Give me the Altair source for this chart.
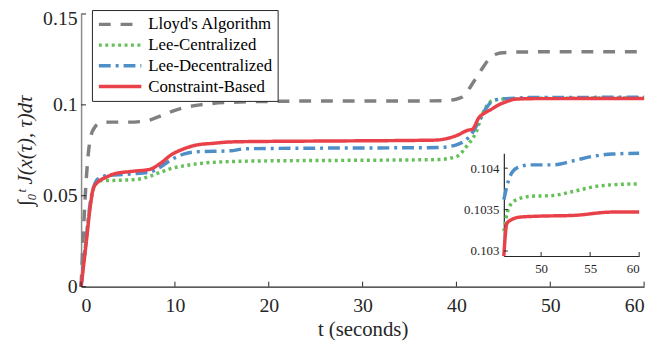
import altair as alt
import pandas as pd

SERIES = ["Lloyd's Algorithm", "Lee-Centralized", "Lee-Decentralized", "Constraint-Based"]
COLORS = ["#808080", "#66c05a", "#4f8fc8", "#e84149"]
DASHES = [[12, 10], [3, 3.5], [12, 5, 3, 5], [1, 0]]

# ---- main panel data ----
lloyd_t = [0, 0.25, 0.5, 0.75, 1.0, 1.5, 2, 3, 5, 7, 8, 9, 10, 11, 12, 14, 16, 20, 25, 30, 35, 39,
           40, 40.5, 41, 41.5, 42, 42.5, 43, 43.5, 44, 44.5, 45, 46, 50, 60]
lloyd_v = [0, 0.030, 0.055, 0.072, 0.082, 0.088, 0.0898, 0.0905, 0.0905, 0.0912, 0.093, 0.095, 0.097,
           0.0985, 0.0995, 0.1008, 0.1014, 0.1019, 0.1021, 0.1021, 0.1021, 0.1024, 0.1032, 0.104, 0.106,
           0.110, 0.114, 0.118, 0.122, 0.1253, 0.1273, 0.1283, 0.1287, 0.129, 0.1292, 0.1292]

leec_t = [0, 0.5, 1.0, 1.5, 2, 4, 6, 7.3, 8.5, 9.6, 11, 12.4, 15.9, 20, 26, 38, 40, 41.2, 42.1, 42.7,
          43.3, 44, 45, 46.2, 47.5, 51.2, 55.6, 60]
leec_v = [0, 0.024, 0.046, 0.056, 0.0583, 0.0585, 0.059, 0.0607, 0.063, 0.065, 0.0665, 0.0676, 0.0688,
          0.0692, 0.0694, 0.0699, 0.0715, 0.078, 0.085, 0.094, 0.100, 0.1027, 0.1032, 0.10324, 0.10362,
          0.10367, 0.10378, 0.10381]

leed_t = [0, 0.5, 1.0, 1.5, 2, 3, 5.4, 7.3, 8.5, 9.6, 11, 12.4, 15.9, 17.4, 20, 26, 38, 40, 41.6, 42.6,
          43.2, 43.7, 44.7, 46.2, 47.5, 51.2, 55.6, 60]
leed_v = [0, 0.024, 0.047, 0.057, 0.060, 0.0612, 0.062, 0.063, 0.066, 0.0698, 0.073, 0.0742, 0.0747,
          0.0758, 0.076, 0.0762, 0.0765, 0.078, 0.084, 0.093, 0.0984, 0.1015, 0.1032, 0.10362, 0.104,
          0.10404, 0.10415, 0.10418]

cb_t = [0, 0.5, 1.0, 1.3, 1.9, 2.6, 3.5, 5.4, 7.3, 8.5, 9.6, 10.7, 12.4, 14, 15.9, 20, 26, 37.7, 39,
        40.1, 41.2, 41.7, 42.4, 43.0, 43.7, 44.5, 45.3, 46.4, 48, 60]
cb_v = [0, 0.022, 0.045, 0.054, 0.058, 0.060, 0.062, 0.0634, 0.0645, 0.068, 0.0725, 0.0753, 0.078,
        0.0788, 0.0796, 0.0799, 0.0801, 0.0806, 0.0815, 0.0833, 0.086, 0.0866, 0.093, 0.0955, 0.0975,
        0.1, 0.1017, 0.1032, 0.10342, 0.10347]

# ---- inset data ----
in_leec_t = [46.2, 46.7, 47.5, 48.9, 51.2, 53.3, 55.6, 57.3, 60]
in_leec_v = [0.10324, 0.10352, 0.10362, 0.10366, 0.10367, 0.10372, 0.10378, 0.10380, 0.10381]
in_leed_t = [46.2, 46.7, 47.5, 48.9, 51.2, 53.3, 55.6, 57.3, 60]
in_leed_v = [0.10362, 0.10386, 0.10400, 0.10404, 0.10404, 0.10409, 0.10415, 0.10417, 0.10418]
in_cb_t = [46.2, 46.5, 47.0, 47.9, 49.6, 53.3, 57.3, 60]
in_cb_v = [0.10294, 0.10333, 0.10338, 0.10341, 0.10342, 0.10343, 0.10347, 0.10347]

main_x_ticks = [0, 10, 20, 30, 40, 50, 60]
main_y_ticks = [0, 0.05, 0.1, 0.15]
inset_x_ticks = [50, 55, 60]
inset_y_ticks = [0.103, 0.1035, 0.104]


def frame(parts):
    rows = []
    for name, ts, vs in parts:
        for t, v in zip(ts, vs):
            rows.append({"series": name, "t": t, "v": v})
    return pd.DataFrame(rows)


main_df = frame([(SERIES[0], lloyd_t, lloyd_v), (SERIES[1], leec_t, leec_v),
                 (SERIES[2], leed_t, leed_v), (SERIES[3], cb_t, cb_v)])
inset_df = frame([(SERIES[1], in_leec_t, in_leec_v), (SERIES[2], in_leed_t, in_leed_v),
                  (SERIES[3], in_cb_t, in_cb_v)])

FONT = "Liberation Serif, Times New Roman, DejaVu Serif, serif"
DARK = "#262626"
TOP = 4
W, H = 570, 276

legend = alt.Legend(title=None, orient="none", legendX=11, legendY=8 - (8 + TOP), fillColor="white",
                    strokeColor=DARK, padding=5, labelFont=FONT, labelFontSize=17, labelColor="black",
                    symbolType="stroke", symbolSize=1850, symbolStrokeWidth=3.5, labelOffset=5,
                    clipHeight=19, rowPadding=2, cornerRadius=0)
color = alt.Color("series:N", scale=alt.Scale(domain=SERIES, range=COLORS), legend=legend)
dash = alt.StrokeDash("series:N", scale=alt.Scale(domain=SERIES, range=DASHES), legend=legend)

# main scales/axes
mx_scale = alt.Scale(domain=[0, 60], nice=False, zero=False)
my_scale = alt.Scale(domain=[0, 0.15], nice=False)
mx_axis = alt.Axis(values=main_x_ticks, ticks=False, tickSize=0, grid=False, domainColor=DARK,
                   domainWidth=1.2, labelFont=FONT, labelFontSize=20, labelColor=DARK, labelPadding=9,
                   title="t (seconds)", titleFont=FONT, titleFontSize=21, titleFontWeight="normal",
                   titleColor=DARK, titlePadding=3)
my_axis = alt.Axis(values=main_y_ticks, format="~g", ticks=False, tickSize=0, grid=False,
                   domainColor="#8c8c8c", domainWidth=1.5, labelFont=FONT, labelFontSize=20,
                   labelColor=DARK, labelPadding=4,
                   labelOffset=alt.condition("datum.value >= 0.15", alt.value(5), alt.value(0)),
                   title="∫₀ᵗ J(x(τ), τ)dτ", titleFont=FONT,
                   titleFontSize=21, titleFontWeight="normal", titleFontStyle="italic",
                   titleColor=DARK, titlePadding=7)

main_lines = alt.Chart(main_df).mark_line(strokeWidth=3.5, interpolate="monotone").encode(
    x=alt.X("t:Q", scale=mx_scale, axis=mx_axis),
    y=alt.Y("v:Q", scale=my_scale, axis=my_axis),
    color=color, strokeDash=dash,
)
main_xt = alt.Chart(pd.DataFrame({"t": main_x_ticks})).mark_rule(color=DARK, strokeWidth=1).encode(
    x=alt.X("t:Q", scale=mx_scale), y=alt.value(H), y2=alt.value(H - 5))
main_yt = alt.Chart(pd.DataFrame({"v": main_y_ticks})).mark_rule(color=DARK, strokeWidth=1).encode(
    y=alt.Y("v:Q", scale=my_scale), x=alt.value(0), x2=alt.value(5))
main = alt.layer(main_lines, main_xt, main_yt)

# inset scales/axes (pixel ranges inside the main plot area)
IX0, IX1 = 428, 565
IYB, IYT = 257 - 8 - TOP, 153 - 8 - TOP
ix_scale = alt.Scale(domain=[46.2, 60], range=[IX0, IX1], nice=False, zero=False)
iy_scale = alt.Scale(domain=[0.10294, 0.10418], range=[IYB, IYT], nice=False, zero=False)
ix_axis = alt.Axis(orient="bottom", offset=IYB - H, values=inset_x_ticks, ticks=False, tickSize=0,
                   grid=False, domainColor=DARK, domainWidth=1.2, labelFont=FONT, labelFontSize=13,
                   labelColor=DARK, labelPadding=7, title=None)
iy_axis = alt.Axis(orient="left", offset=-IX0, values=inset_y_ticks, format="~g", ticks=False,
                   tickSize=0, grid=False, domainColor=DARK, domainWidth=1.2, labelFont=FONT,
                   labelFontSize=13, labelColor=DARK, labelPadding=5, title=None)

inset_lines = alt.Chart(inset_df).mark_line(strokeWidth=3.5, interpolate="monotone").encode(
    x=alt.X("t:Q", scale=ix_scale, axis=ix_axis),
    y=alt.Y("v:Q", scale=iy_scale, axis=iy_axis),
    color=color, strokeDash=dash,
)
inset_xt = alt.Chart(pd.DataFrame({"t": inset_x_ticks})).mark_rule(color=DARK, strokeWidth=1).encode(
    x=alt.X("t:Q", scale=ix_scale), y=alt.value(IYB), y2=alt.value(IYB - 4))
inset_yt = alt.Chart(pd.DataFrame({"v": inset_y_ticks})).mark_rule(color=DARK, strokeWidth=1).encode(
    y=alt.Y("v:Q", scale=iy_scale), x=alt.value(IX0), x2=alt.value(IX0 + 4))
inset = alt.layer(inset_lines, inset_xt, inset_yt)

chart = alt.layer(main, inset).resolve_scale(x="independent", y="independent").properties(
    width=W, height=H,
    autosize=alt.AutoSizeParams(type="none"),
    padding={"left": 74, "top": TOP, "right": 8, "bottom": 349 - 16 - TOP - H},
    background="white",
).configure_view(stroke=None)

chart.save("out.html", embed_options={"renderer": "svg", "actions": False})
